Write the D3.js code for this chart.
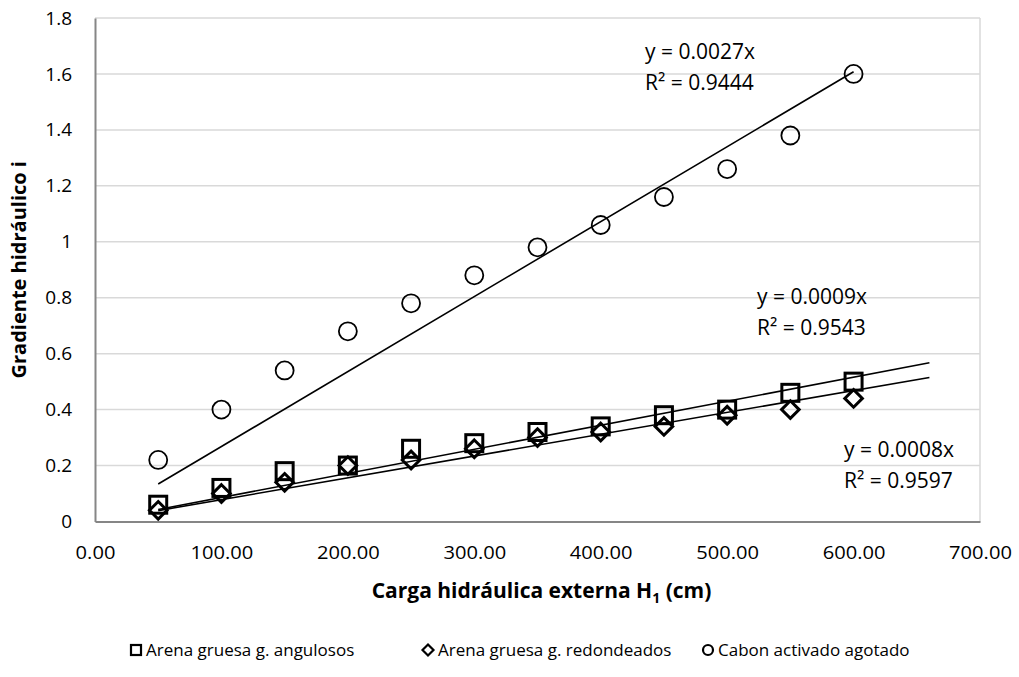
<!DOCTYPE html>
<html>
<head>
<meta charset="utf-8">
<script src="https://cdn.jsdelivr.net/npm/d3@7"></script>
<style>
  html, body { margin: 0; padding: 0; background: #fff; }
  svg { display: block; font-family: "Open Sans", "Noto Sans", sans-serif; }
</style>
</head>
<body>
<svg id="chart" width="1019" height="677"></svg>
<script>
// Hydraulic head (cm) vs hydraulic gradient for three filter media
const cargas = [50, 100, 150, 200, 250, 300, 350, 400, 450, 500, 550, 600];
const angulosos = [0.06, 0.12, 0.18, 0.20, 0.26, 0.28, 0.32, 0.34, 0.38, 0.40, 0.46, 0.50];
const redondeados = [0.04, 0.10, 0.14, 0.20, 0.22, 0.26, 0.30, 0.32, 0.34, 0.38, 0.40, 0.44];
const carbon = [0.22, 0.40, 0.54, 0.68, 0.78, 0.88, 0.98, 1.06, 1.16, 1.26, 1.38, 1.60];

// Linear trends through the origin (slope) and their x extent
const pendientes = [0.00086, 0.00078, 0.00268];
const trendFin = [660, 660, 600];
const trendTextos = [["y = 0.0009x", "R² = 0.9543"], ["y = 0.0008x", "R² = 0.9597"], ["y = 0.0027x", "R² = 0.9444"]];

const nombres = ["Arena gruesa g. angulosos", "Arena gruesa g. redondeados", "Cabon activado agotado"];
const xTicks = [0, 100, 200, 300, 400, 500, 600, 700];
const yTicks = [0, 0.2, 0.4, 0.6, 0.8, 1, 1.2, 1.4, 1.6, 1.8];

const svg = d3.select("#chart");
const x = d3.scaleLinear().domain([0, 700]).range([95, 980]);
const y = d3.scaleLinear().domain([0, 1.8]).range([521.5, 18]);

// Gridlines
svg.append("g")
  .selectAll("line")
  .data(yTicks.filter(d => d > 0))
  .join("line")
  .attr("x1", x(0)).attr("x2", x(700))
  .attr("y1", d => y(d)).attr("y2", d => y(d))
  .attr("stroke", "#d9d9d9").attr("stroke-width", 1.5);

// Right border of plot area
svg.append("line")
  .attr("x1", x(700)).attr("x2", x(700))
  .attr("y1", y(1.8)).attr("y2", y(0))
  .attr("stroke", "#d9d9d9").attr("stroke-width", 1.5);

// Axes
const xAxis = svg.append("g")
  .attr("transform", `translate(0,${y(0)})`)
  .call(d3.axisBottom(x).tickValues(xTicks).tickFormat(d3.format(".2f")).tickSize(0).tickPadding(24));
const yAxis = svg.append("g")
  .attr("transform", `translate(${x(0)},0)`)
  .call(d3.axisLeft(y).tickValues(yTicks).tickFormat(d => String(+d.toFixed(1))).tickSize(0).tickPadding(23));

[xAxis, yAxis].forEach(a => {
  a.select(".domain").attr("stroke", "#868686").attr("stroke-width", 2);
  a.selectAll("text").attr("font-size", 19).attr("fill", "#000")
    .attr("font-family", "'Open Sans', sans-serif");
});
xAxis.selectAll("text").attr("transform", "scale(1.06,1)");

// Axis titles
const xt = svg.append("text")
  .attr("x", (x(0) + x(700)) / 2 + 4).attr("y", 598)
  .attr("text-anchor", "middle")
  .attr("font-size", 21).attr("font-weight", "bold");
xt.append("tspan").text("Carga hidráulica externa H");
xt.append("tspan").text("1").attr("font-size", 14).attr("dy", 5);
xt.append("tspan").text(" (cm)").attr("dy", -5);

svg.append("text")
  .attr("transform", `translate(26,${(y(0) + y(1.8)) / 2}) rotate(-90)`)
  .attr("text-anchor", "middle")
  .attr("font-size", 20).attr("font-weight", "bold")
  .text("Gradiente hidráulico i");

// Marker shapes
function marcador(g, tipo, s) {
  if (tipo === 0) {
    g.append("rect").attr("x", -s / 2).attr("y", -s / 2).attr("width", s).attr("height", s);
  } else if (tipo === 1) {
    const h = s * 0.55;
    g.append("path").attr("d", `M0,${-h}L${h},0L0,${h}L${-h},0Z`);
  } else {
    g.append("circle").attr("r", s / 2);
  }
}

const series = [angulosos, redondeados, carbon];
const tam = [17, 16, 18];
const grosor = [3, 3, 1.8];

series.forEach((vals, i) => {
  const g = svg.append("g").attr("fill", "none").attr("stroke", "#000").attr("stroke-width", grosor[i]);
  cargas.forEach((c, j) => {
    const m = g.append("g").attr("transform", `translate(${x(c)},${y(vals[j])})`);
    marcador(m, i, tam[i]);
  });
});

// Trendlines
series.forEach((vals, i) => {
  const ini = cargas[0];
  const fin = trendFin[i];
  svg.append("line")
    .attr("x1", x(ini)).attr("y1", y(pendientes[i] * ini))
    .attr("x2", x(fin)).attr("y2", y(pendientes[i] * fin))
    .attr("stroke", "#000").attr("stroke-width", 1.6);
});

// Trendline equations
const etiquetaPos = [[757, 304], [844, 457], [645, 59]];
trendTextos.forEach((t, i) => {
  const txt = svg.append("text")
    .attr("x", etiquetaPos[i][0]).attr("y", etiquetaPos[i][1])
    .attr("font-size", 21).attr("fill", "#000");
  txt.append("tspan").text(t[0]);
  txt.append("tspan").attr("x", etiquetaPos[i][0]).attr("dy", 31).text(t[1]);
});

// Legend
const legX = [136, 428, 708];
nombres.forEach((n, i) => {
  const g = svg.append("g").attr("transform", `translate(${legX[i]},650)`);
  const m = g.append("g").attr("fill", "none").attr("stroke", "#000").attr("stroke-width", 2.2);
  marcador(m, i, 10);
  g.append("text").attr("x", 10).attr("y", 6)
    .attr("font-size", 17).attr("fill", "#000").text(n);
});
</script>
</body>
</html>
